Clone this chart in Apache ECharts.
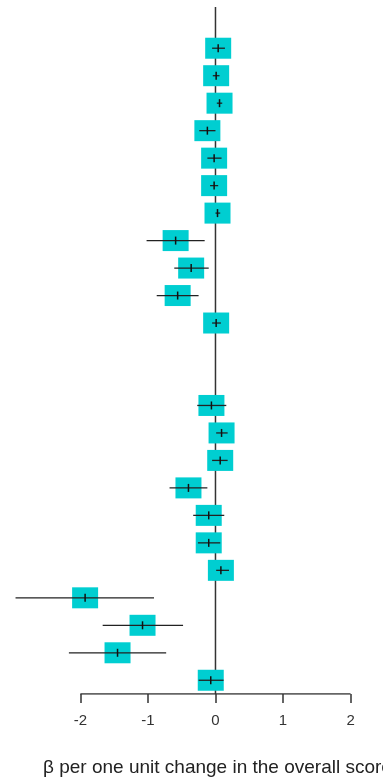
<!DOCTYPE html>
<html>
<head>
<meta charset="utf-8">
<script src="https://cdn.jsdelivr.net/npm/echarts@6/dist/echarts.min.js"></script>
<style>
  html, body { margin: 0; padding: 0; background: #fff; }
  #chart { width: 383px; height: 778px; }
</style>
</head>
<body>
<div id="chart"></div>
<script>
// rows from top to bottom, null = empty row
const estimate = [0.04, 0.01, 0.06, -0.12, -0.02, -0.02, 0.03, -0.59, -0.36, -0.56, 0.01, null, null,
  -0.06, 0.09, 0.07, -0.40, -0.10, -0.10, 0.08, -1.93, -1.08, -1.45, -0.07];
const lower = [-0.05, -0.04, 0.02, -0.24, -0.12, -0.08, 0.00, -1.02, -0.61, -0.87, -0.05, null, null,
  -0.27, 0.01, -0.05, -0.68, -0.33, -0.26, 0.01, -2.96, -1.67, -2.17, -0.25];
const upper = [0.14, 0.06, 0.10, 0.00, 0.09, 0.04, 0.07, -0.16, -0.10, -0.25, 0.08, null, null,
  0.16, 0.18, 0.18, -0.12, 0.13, 0.07, 0.20, -0.91, -0.48, -0.73, 0.12];
const tickValues = [-2, -1, 0, 1, 2];

const rows = [];
estimate.forEach(function (v, i) {
  if (v !== null) rows.push([v, i + 1, lower[i], upper[i]]);
});

const chart = echarts.init(document.getElementById("chart"));

chart.setOption({
  animation: false,
  grid: { left: 0, right: 0, top: 7, bottom: 84 },
  title: {
    text: "β per one unit change in the overall score",
    left: 43,
    top: 758,
    padding: 0,
    textStyle: { fontFamily: "Liberation Sans", fontSize: 19, fontWeight: "normal", color: "#222" }
  },
  xAxis: {
    type: "value",
    min: -3.19,
    max: 2.48,
    splitLine: { show: false },
    axisLine: { show: false, onZero: false },
    axisTick: { show: true, customValues: tickValues, length: 9, lineStyle: { color: "#333", width: 1.5 } },
    axisLabel: {
      customValues: tickValues,
      margin: 19,
      fontFamily: "Liberation Sans",
      fontSize: 15,
      color: "#333"
    }
  },
  yAxis: {
    type: "value",
    inverse: true,
    min: -0.5,
    max: 24.5,
    show: false
  },
  series: [
    {
      // zero reference line
      type: "line",
      data: [[0, -0.5], [0, 24.5]],
      symbol: "none",
      lineStyle: { color: "#333", width: 1.5 },
      z: 1
    },
    {
      // x axis line from -2 to 2
      type: "line",
      data: [[-2, 24.5], [2, 24.5]],
      symbol: "none",
      lineStyle: { color: "#333", width: 1.5 },
      z: 1
    },
    {
      type: "custom",
      data: rows,
      z: 3,
      renderItem: function (params, api) {
        const c = api.coord([api.value(0), api.value(1)]);
        const lo = api.coord([api.value(2), api.value(1)]);
        const hi = api.coord([api.value(3), api.value(1)]);
        return {
          type: "group",
          children: [
            {
              type: "rect",
              shape: { x: c[0] - 13, y: c[1] - 10.5, width: 26, height: 21 },
              style: { fill: "#00CED1" }
            },
            {
              type: "line",
              shape: { x1: lo[0], y1: c[1], x2: hi[0], y2: c[1] },
              style: { stroke: "#222", lineWidth: 1.3 }
            },
            {
              type: "line",
              shape: { x1: c[0], y1: c[1] - 4, x2: c[0], y2: c[1] + 4 },
              style: { stroke: "#111", lineWidth: 1.5 }
            }
          ]
        };
      }
    }
  ]
});
</script>
</body>
</html>
